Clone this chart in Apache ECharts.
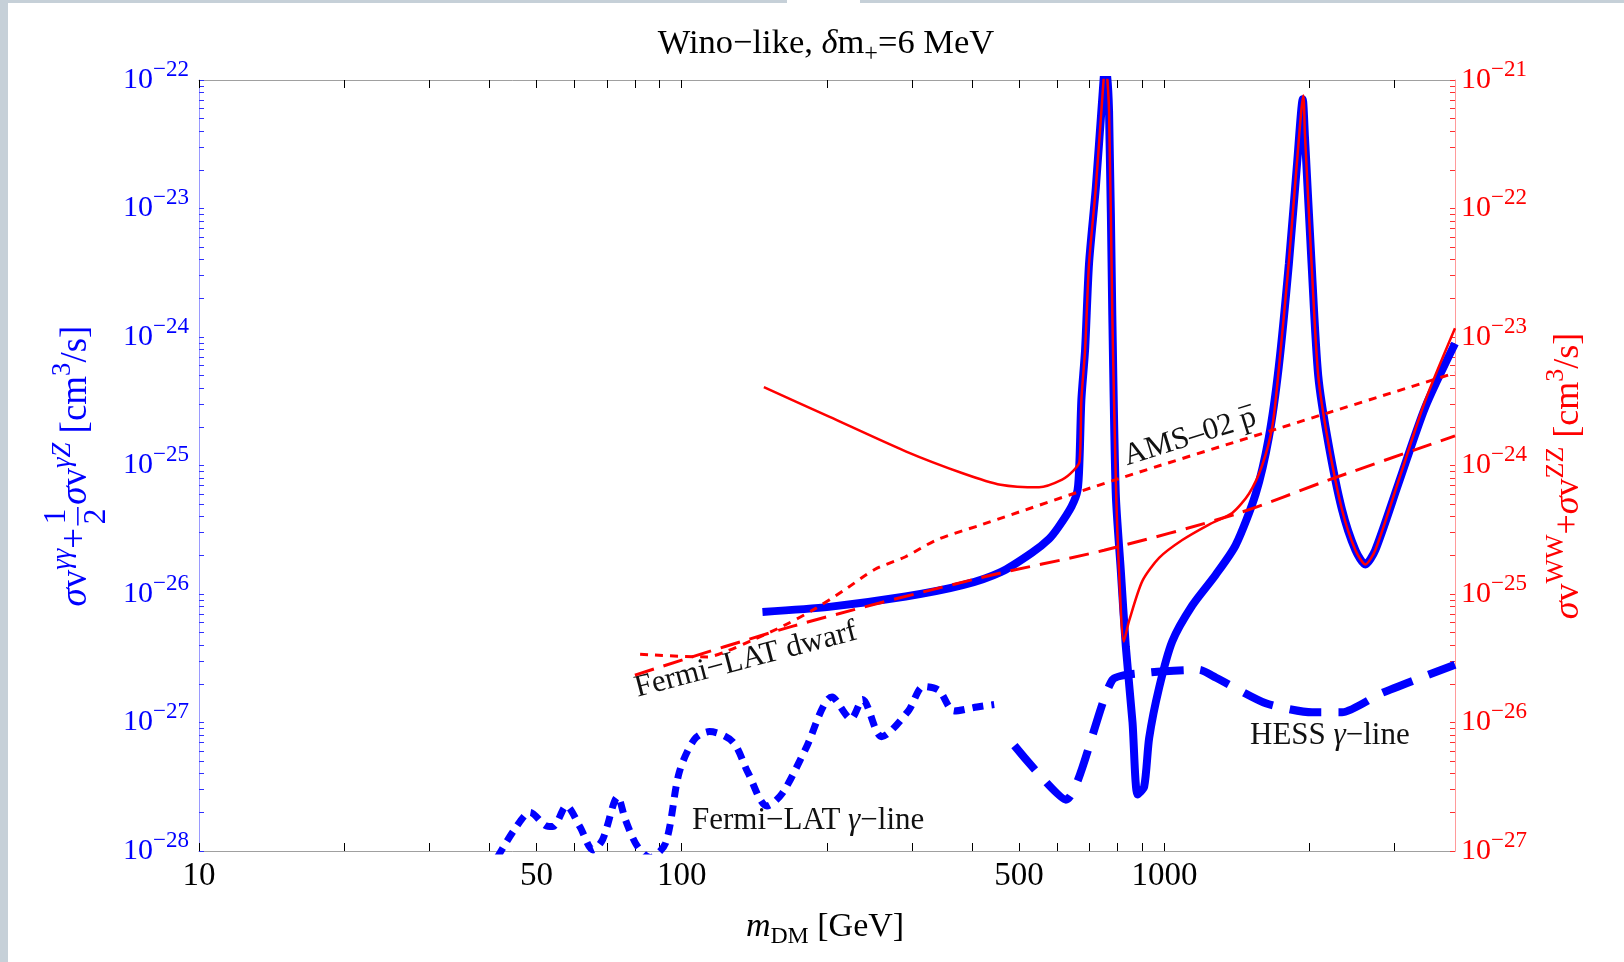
<!DOCTYPE html>
<html>
<head>
<meta charset="utf-8">
<script src="https://cdn.jsdelivr.net/npm/echarts@6/dist/echarts.min.js"></script>
<style>
html,body{margin:0;padding:0;background:#fff;}
#chart{width:1624px;height:962px;}
</style>
</head>
<body>
<div id="chart"></div>
<script>
// ---------------- DATA ----------------
// Wino-like sigma v (gamma gamma + 1/2 gamma Z), left axis [cm^3/s]
const gammaMass = [147,202,291,382,458,531,577,603,642,661,667,673,685,698,721,743,755,768,780,793,812,832,859,880,908,930,975,1038,1142,1277,1405,1546,1646,1726,1811,1884,1935,1955,2018,2083,2185,2332,2488,2608,2734,3055,3467,4000];
const gammaSigmaV = [7.24e-27,7.94e-27,9.55e-27,1.17e-26,1.48e-26,2.09e-26,2.69e-26,3.31e-26,4.79e-26,6.46e-26,1.10e-25,3.24e-25,7.94e-25,3.72e-24,1.45e-23,6.92e-23,1.41e-22,5.75e-23,1.48e-24,6.03e-26,1.55e-26,3.89e-27,1.0e-27,2.75e-28,3.16e-28,7.59e-28,1.86e-27,4.27e-27,8.13e-27,1.41e-26,2.40e-26,6.03e-26,1.66e-25,5.89e-25,3.72e-24,2.29e-23,7.08e-23,3.63e-23,3.72e-24,5.01e-25,1.51e-25,4.57e-26,2.19e-26,1.70e-26,2.19e-26,7.24e-26,2.82e-25,8.91e-25];

// Wino-like sigma v (WW + ZZ), right axis [cm^3/s]
const wwMass = [148,202,291,382,458,550,614,648,667,673,685,698,721,743,755,768,780,793,805,824,845,900,975,1089,1237,1382,1497,1594,1673,1726,1811,1884,1940,1955,2018,2083,2185,2332,2488,2608,2734,3055,3467,4000];
const wwSigmaV = [4.07e-24,2.40e-24,1.29e-24,8.71e-25,7.08e-25,6.76e-25,7.76e-25,9.12e-25,1.07e-24,3.24e-24,7.94e-24,3.72e-23,1.45e-22,6.92e-22,1.41e-21,5.75e-22,1.48e-23,7.94e-25,1.58e-25,4.27e-26,6.17e-26,1.26e-25,1.91e-25,2.63e-25,3.47e-25,4.27e-25,6.03e-25,1.00e-24,2.00e-24,5.62e-24,3.89e-23,2.40e-22,7.59e-22,3.80e-22,3.72e-23,5.01e-24,1.51e-24,4.57e-25,2.19e-25,1.70e-25,2.19e-25,7.59e-25,3.16e-24,1.17e-23];

// Fermi-LAT dwarf limit (right axis)
const dwarfMass = [80,170,420,750,1400,2200,4000];
const dwarfLimit = [2.34e-26,5.62e-26,1.35e-25,2.19e-25,4.17e-25,7.76e-25,1.70e-24];

// AMS-02 antiproton limit (right axis)
const amsMass = [82,113,123,140,162,188,217,251,291,337,419,793,1698,4000];
const amsLimit = [3.39e-26,3.24e-26,3.55e-26,4.37e-26,5.62e-26,7.59e-26,1.07e-25,1.55e-25,1.95e-25,2.63e-25,3.47e-25,7.76e-25,1.91e-24,5.25e-24];

// Fermi-LAT gamma-line limit (left axis)
const fermiLineMass = [41.5,45.1,48.5,52.2,54.1,57.7,61.5,65.5,68.6,73.7,76.5,80.8,86,92.6,98.8,106.3,114.2,127.6,137.2,150.2,161.7,180.4,204.9,224.2,237,259.5,294.8,317,341,367,409,444];
const fermiLineLimit = [8.91e-29,1.48e-28,2.00e-28,1.58e-28,1.55e-28,2.24e-28,1.55e-28,1.02e-28,1.23e-28,2.63e-28,1.74e-28,1.10e-28,8.91e-29,1.15e-28,4.07e-28,7.41e-28,8.51e-28,7.08e-28,4.07e-28,2.24e-28,2.82e-28,6.17e-28,1.58e-27,1.07e-27,1.51e-27,7.76e-28,1.23e-27,1.91e-27,1.78e-27,1.23e-27,1.32e-27,1.38e-27];

// HESS gamma-line limit (left axis)
const hessMass = [489,625,780,930,1181,1277,1622,2023,2334,2825,4000];
const hessLimit = [6.61e-28,2.51e-28,2.14e-27,2.45e-27,2.57e-27,2.24e-27,1.41e-27,1.20e-27,1.20e-27,1.70e-27,2.82e-27];

// Axes
const xRange = [10, 4000];
const xTickLabels = [10, 50, 100, 500, 1000];
const xTickMarks = [10,20,30,40,50,60,70,80,90,100,200,300,400,500,600,700,800,900,1000,2000,3000];
const leftRange = [1e-28, 1e-22];
const rightRange = [1e-27, 1e-21];
const leftDecades = [-28,-27,-26,-25,-24,-23,-22];
const rightDecades = [-27,-26,-25,-24,-23,-22,-21];
const minorMultipliers = [1,2,3,4,5,6,7,8,9];

// ---------------- helpers ----------------
const L = Math.log10;
const pairs = (xs, ys) => xs.map((m, i) => [L(m), L(ys[i])]);
function logTicks(decades) {
  const out = [];
  decades.forEach((d, i) => {
    if (i === decades.length - 1) { out.push(d); return; }
    minorMultipliers.forEach(k => out.push(d + L(k)));
  });
  return out;
}

const SERIF = '"Liberation Serif", "Times New Roman", serif';
const mctx = document.createElement('canvas').getContext('2d');
const fnt = (size, it) => (it ? 'italic ' : '') + size + 'px ' + SERIF;
const tw = (t, size, it) => { mctx.font = fnt(size, it); return mctx.measureText(t).width; };
function txt(t, x, y, size, it, color, align) {
  return { type: 'text', x: x, y: y, style: { text: t, font: fnt(size, it), fill: color,
    textAlign: align, align: align, textVerticalAlign: 'middle', verticalAlign: 'middle' } };
}
function mathText(pieces, size, color, opt) {
  const kids = []; let x = 0;
  pieces.forEach(p => {
    if (p.frac) {
      const fs = size * 0.85;
      const w = Math.max(tw(p.frac[0], fs), tw(p.frac[1], fs)) + size * 0.2;
      const cx = x + w / 2;
      kids.push(txt(p.frac[0], cx, -size * 0.52, fs, false, color, 'center'));
      kids.push(txt(p.frac[1], cx, size * 0.55, fs, false, color, 'center'));
      kids.push({ type: 'line', shape: { x1: x + size * 0.06, y1: size * 0.05, x2: x + w - size * 0.06, y2: size * 0.05 },
        style: { stroke: color, lineWidth: 1.5 } });
      x += w;
      return;
    }
    const fs = size * (p.k || 1);
    const w = tw(p.t, fs, p.it);
    kids.push(txt(p.t, x, (p.dy || 0) * size, fs, p.it, color, 'left'));
    if (p.bar) {
      kids.push({ type: 'line', shape: { x1: x + w * 0.1, y1: -size * 0.42, x2: x + w * 0.95, y2: -size * 0.42 },
        style: { stroke: color, lineWidth: 1.5 } });
    }
    x += w + (p.gap || 0) * size;
  });
  const anchor = opt.anchor || 'center';
  return { type: 'group', x: opt.x, y: opt.y, rotation: (opt.rot || 0) * Math.PI / 180, z: 100,
    children: [{ type: 'group', x: anchor === 'center' ? -x / 2 : 0, children: kids }] };
}
const SUP = { k: 0.72, dy: -0.36 };
const SUB = { k: 0.7, dy: 0.3 };

// ---------------- chart ----------------
const chart = echarts.init(document.getElementById('chart'), null, { renderer: 'canvas' });

const yLabelFmt = v => '{b|10}{s|\u2212' + Math.abs(Math.round(v)) + '}';
function yRich(color) {
  return {
    b: { fontSize: 30, fontFamily: SERIF, color: color, lineHeight: 44 },
    s: { fontSize: 23, fontFamily: SERIF, color: color, lineHeight: 23, verticalAlign: 'top' }
  };
}

const option = {
  animation: false,
  backgroundColor: '#ffffff',
  grid: { left: 199, right: 169, top: 80, bottom: 111, containLabel: false },
  xAxis: [
    {
      type: 'value', position: 'bottom', min: L(xRange[0]), max: L(xRange[1]),
      splitLine: { show: false },
      axisLine: { show: true, onZero: false, lineStyle: { color: '#a0a0a0', width: 1 } },
      axisTick: { show: true, inside: true, length: 8, customValues: xTickMarks.map(L), lineStyle: { color: '#000', width: 1 } },
      axisLabel: { show: true, customValues: xTickLabels.map(L), formatter: v => String(Math.round(Math.pow(10, v))),
        fontFamily: SERIF, fontSize: 33, color: '#000', margin: 9 }
    },
    {
      type: 'value', position: 'top', min: L(xRange[0]), max: L(xRange[1]),
      splitLine: { show: false },
      axisLine: { show: true, onZero: false, lineStyle: { color: '#a0a0a0', width: 1 } },
      axisTick: { show: true, inside: true, length: 8, customValues: xTickMarks.map(L), lineStyle: { color: '#000', width: 1 } },
      axisLabel: { show: false }
    }
  ],
  yAxis: [
    {
      type: 'value', position: 'left', min: L(leftRange[0]), max: L(leftRange[1]),
      splitLine: { show: false },
      axisLine: { show: true, onZero: false, lineStyle: { color: '#9a9aff', width: 1 } },
      axisTick: { show: true, inside: true, length: 5, customValues: logTicks(leftDecades), lineStyle: { color: '#3030ff', width: 1 } },
      axisLabel: { show: true, customValues: leftDecades, formatter: yLabelFmt, rich: yRich('#0000ff'), margin: 10 }
    },
    {
      type: 'value', position: 'right', min: L(rightRange[0]), max: L(rightRange[1]),
      splitLine: { show: false },
      axisLine: { show: true, onZero: false, lineStyle: { color: '#ff9a9a', width: 1 } },
      axisTick: { show: true, inside: true, length: 5, customValues: logTicks(rightDecades), lineStyle: { color: '#ff3030', width: 1 } },
      axisLabel: { show: true, customValues: rightDecades, formatter: yLabelFmt, rich: yRich('#ff0000'), margin: 6 }
    }
  ],
  series: [
    { name: 'Fermi-LAT gamma-line', type: 'line', xAxisIndex: 0, yAxisIndex: 0, data: pairs(fermiLineMass, fermiLineLimit),
      showSymbol: false, smooth: 0.3, clip: true, z: 2,
      lineStyle: { color: '#0000ff', width: 7, type: [11, 8], cap: 'butt' } },
    { name: 'HESS gamma-line', type: 'line', xAxisIndex: 0, yAxisIndex: 0, data: pairs(hessMass, hessLimit),
      showSymbol: false, smooth: 0.2, clip: true, z: 2,
      lineStyle: { color: '#0000ff', width: 8, type: [32, 17], cap: 'butt' } },
    { name: 'gamma gamma + 1/2 gamma Z', type: 'line', xAxisIndex: 0, yAxisIndex: 0, data: pairs(gammaMass, gammaSigmaV),
      showSymbol: false, smooth: 0.25, clip: true, z: 3,
      lineStyle: { color: '#0000ff', width: 8 } },
    { name: 'Fermi-LAT dwarf', type: 'line', xAxisIndex: 0, yAxisIndex: 1, data: pairs(dwarfMass, dwarfLimit),
      showSymbol: false, smooth: 0.3, clip: true, z: 4,
      lineStyle: { color: '#ff0000', width: 3, type: [20, 10], cap: 'butt' } },
    { name: 'AMS-02 pbar', type: 'line', xAxisIndex: 0, yAxisIndex: 1, data: pairs(amsMass, amsLimit),
      showSymbol: false, smooth: 0.3, clip: true, z: 4,
      lineStyle: { color: '#ff0000', width: 3, type: [8, 7], cap: 'butt' } },
    { name: 'WW + ZZ', type: 'line', xAxisIndex: 0, yAxisIndex: 1, data: pairs(wwMass, wwSigmaV),
      showSymbol: false, smooth: 0.25, clip: true, z: 5,
      lineStyle: { color: '#ff0000', width: 2.5 } }
  ],
  graphic: [
    { type: 'rect', shape: { x: 0, y: 0, width: 8, height: 962 }, style: { fill: '#c6d0d8' }, z: 200 },
    { type: 'rect', shape: { x: 0, y: 0, width: 787, height: 3 }, style: { fill: '#c6d0d8' }, z: 200 },
    { type: 'rect', shape: { x: 860, y: 0, width: 764, height: 3 }, style: { fill: '#c6d0d8' }, z: 200 },
    // title
    mathText([{ t: 'Wino\u2212like, ' }, { t: '\u03b4', it: true }, { t: 'm' }, Object.assign({ t: '+' }, SUB), { t: '=6 MeV' }],
      34.5, '#000', { x: 826, y: 44 }),
    // x-axis name
    mathText([{ t: 'm', it: true }, Object.assign({ t: 'DM' }, SUB), { t: ' [GeV]' }], 34, '#000', { x: 825, y: 927 }),
    // left axis name
    mathText([{ t: '\u03c3', it: true }, { t: 'v' }, Object.assign({ t: '\u03b3\u03b3', it: true }, SUP), { t: '+' },
      { frac: ['1', '2'] }, { t: '\u03c3', it: true }, { t: 'v' }, Object.assign({ t: '\u03b3Z', it: true }, SUP),
      { t: ' [cm' }, Object.assign({ t: '3' }, SUP), { t: '/s]' }], 37, '#0000ff', { x: 76, y: 466, rot: 90 }),
    // right axis name
    mathText([{ t: '\u03c3', it: true }, { t: 'v' }, Object.assign({ t: 'WW' }, SUP), { t: '+' },
      { t: '\u03c3', it: true }, { t: 'v' }, Object.assign({ t: 'ZZ' }, SUP),
      { t: ' [cm' }, Object.assign({ t: '3' }, SUP), { t: '/s]' }], 36, '#ff0000', { x: 1569, y: 476, rot: 90 }),
    // annotations
    mathText([{ t: 'AMS\u201302 ' }, { t: 'p', bar: true }], 31, '#111', { x: 1190, y: 437, rot: 17.3 }),
    mathText([{ t: 'Fermi\u2212LAT dwarf' }], 31, '#111', { x: 746, y: 660, rot: 14.7 }),
    mathText([{ t: 'Fermi\u2212LAT ' }, { t: '\u03b3', it: true }, { t: '\u2212line' }], 31, '#111', { x: 692, y: 821, anchor: 'left' }),
    mathText([{ t: 'HESS ' }, { t: '\u03b3', it: true }, { t: '\u2212line' }], 31, '#111', { x: 1250, y: 736, anchor: 'left' })
  ]
};
chart.setOption(option);
</script>
</body>
</html>
